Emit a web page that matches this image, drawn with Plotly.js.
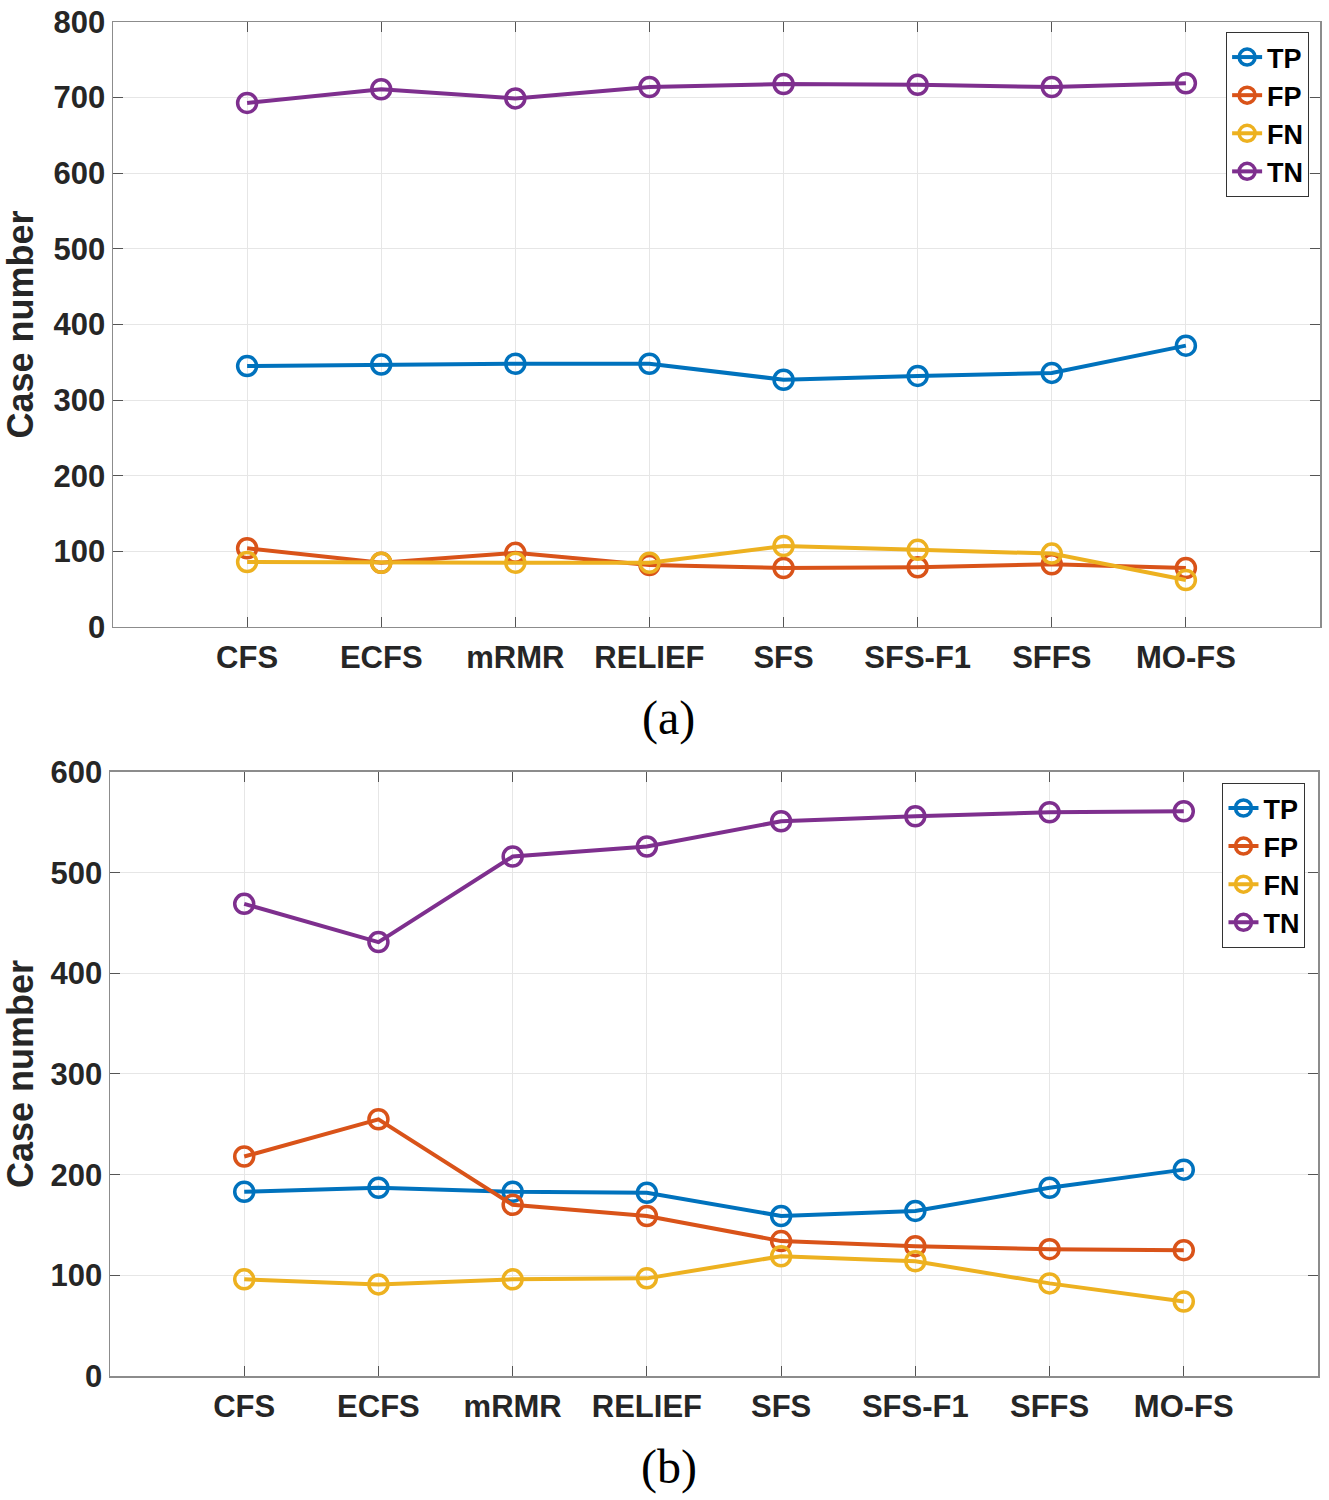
<!DOCTYPE html>
<html>
<head>
<meta charset="utf-8">
<script src="https://cdn.plot.ly/plotly-3.0.1.min.js"></script>
<style>html,body{margin:0;padding:0;background:#fff;}</style>
</head>
<body>
<div id="chart" style="width:1329px;height:1500px;"></div>
<script>
const methods = ["CFS","ECFS","mRMR","RELIEF","SFS","SFS-F1","SFFS","MO-FS"];
const seriesNames = ["TP","FP","FN","TN"];

// Panel (a)
const tpA = [345, 347, 348, 348, 327, 332, 336, 372];
const fpA = [104, 85, 98, 82, 78, 79, 83, 78];
const fnA = [86, 85, 85, 85, 107, 102, 97, 62];
const tnA = [693, 711, 699, 714, 718, 717, 714, 719];

// Panel (b)
const tpB = [183, 187, 183, 182, 159, 164, 187, 205];
const fpB = [218, 255, 170, 159, 134, 129, 126, 125];
const fnB = [96, 91, 96, 97, 119, 114, 92, 74];
const tnB = [469, 431, 516, 526, 551, 556, 560, 561];

const colors = ["#0072BD","#D95319","#EDB120","#7E2F8E"];
const fontFam = "Arial, 'Liberation Sans', Helvetica, sans-serif";
const txtCol = "#262626";

function mk(y, i, xa, ya, leg) {
  return {
    x: methods, y: y, name: seriesNames[i], type: "scatter", mode: "lines+markers",
    xaxis: xa, yaxis: ya, legend: leg,
    line: {color: colors[i], width: 4},
    marker: {symbol: "circle-open", size: 19, color: colors[i], line: {width: 3.5, color: colors[i]}}
  };
}

const traces = [
  mk(tpA,0,"x","y","legend"), mk(fpA,1,"x","y","legend"), mk(fnA,2,"x","y","legend"), mk(tnA,3,"x","y","legend"),
  mk(tpB,0,"x2","y2","legend2"), mk(fpB,1,"x2","y2","legend2"), mk(fnB,2,"x2","y2","legend2"), mk(tnB,3,"x2","y2","legend2")
];

const tickFont = {family: fontFam, size: 31, color: txtCol, weight: "bold"};
function xax(domain, anchor) {
  return {
    domain: domain, anchor: anchor, type: "category", range: [-1, 8],
    showline: true, linecolor: "#8c8c8c", linewidth: 1.5, mirror: "ticks",
    ticks: "inside", ticklen: 10, tickcolor: "#555", tickwidth: 1,
    showgrid: true, gridcolor: "#e6e6e6", gridwidth: 1,
    tickfont: tickFont, zeroline: false, fixedrange: true, ticklabelstandoff: 2
  };
}
function yax(domain, anchor, max, dtick) {
  return {
    domain: domain, anchor: anchor, range: [0, max], dtick: dtick,
    showline: true, linecolor: "#8c8c8c", linewidth: 1.5, mirror: "ticks",
    ticks: "inside", ticklen: 10, tickcolor: "#555", tickwidth: 1,
    showgrid: true, gridcolor: "#e6e6e6", gridwidth: 1,
    tickfont: tickFont, zeroline: false, fixedrange: true,
    title: {text: "Case number", font: {family: fontFam, size: 36, color: txtCol, weight: "bold"}, standoff: 14}
  };
}

const legStyle = (x, y) => ({
  x: x, y: y, xanchor: "right", yanchor: "top",
  bgcolor: "#ffffff", bordercolor: "#333", borderwidth: 1,
  font: {family: fontFam, size: 27, color: "#000", weight: "bold"},
  itemwidth: 30, tracegroupgap: 0
});

const layout = {
  width: 1329, height: 1500,
  margin: {l: 110, r: 9, t: 22, b: 124},
  paper_bgcolor: "#ffffff", plot_bgcolor: "#ffffff",
  showlegend: true,
  xaxis: xax([3/1210, 1], "y"),
  yaxis: yax([0.5532, 1], "x", 800, 100),
  xaxis2: xax([0, 1208/1210], "y2"),
  yaxis2: yax([0, 0.4461], "x2", 600, 100),
  legend: legStyle(0.991, 0.9926),
  legend2: legStyle(0.988, 0.438),
  annotations: [
    {text: "(a)", xref: "paper", yref: "paper", x: (668-110)/1210, y: (1376-718)/1354, xanchor: "center", yanchor: "middle", showarrow: false,
     font: {family: "'Liberation Serif', 'Times New Roman', serif", size: 48, color: "#000"}},
    {text: "(b)", xref: "paper", yref: "paper", x: (669-110)/1210, y: (1376-1467)/1354, xanchor: "center", yanchor: "middle", showarrow: false,
     font: {family: "'Liberation Serif', 'Times New Roman', serif", size: 48, color: "#000"}}
  ]
};

Plotly.newPlot("chart", traces, layout, {displayModeBar: false, staticPlot: true});
</script>
</body>
</html>
